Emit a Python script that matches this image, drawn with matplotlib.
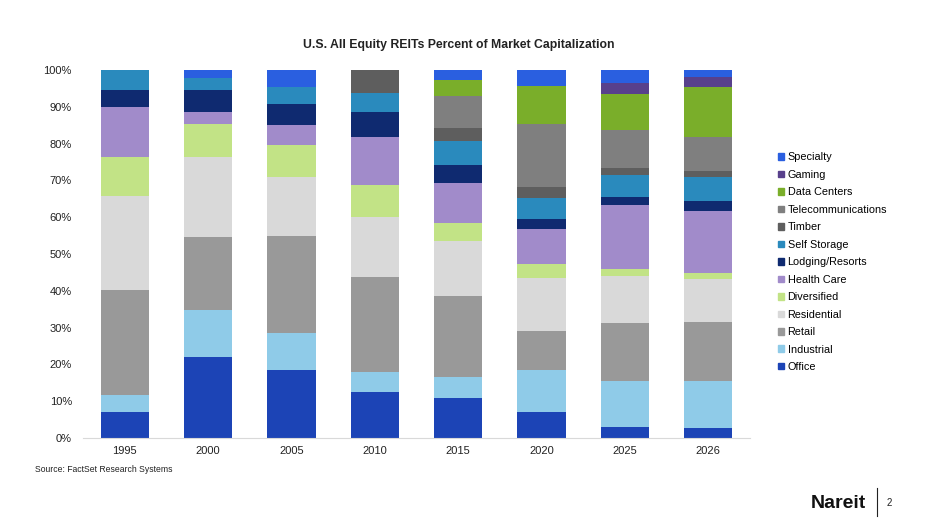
import numpy as np
import matplotlib
matplotlib.use("Agg")
from matplotlib import pyplot as plt
from matplotlib.patches import Patch
from matplotlib.ticker import PercentFormatter

plt.rcParams["font.family"] = ["Liberation Sans", "DejaVu Sans"]

years = ["1995", "2000", "2005", "2010", "2015", "2020", "2025", "2026"]

# percent of market cap by sector
office = [7.0, 22.1, 18.5, 12.4, 11.0, 7.1, 3.1, 2.8]
industrial = [4.7, 12.7, 9.9, 5.5, 5.7, 11.3, 12.4, 12.7]
retail = [28.5, 19.9, 26.5, 25.8, 22.0, 10.7, 15.8, 16.1]
residential = [25.6, 21.7, 16.1, 16.4, 14.9, 14.3, 12.8, 11.5]
diversified = [10.5, 8.9, 8.6, 8.7, 4.9, 3.9, 1.7, 1.8]
health_care = [13.7, 3.4, 5.4, 12.9, 10.7, 9.5, 17.5, 16.9]
lodging = [4.6, 5.9, 5.8, 7.0, 5.0, 2.8, 2.3, 2.6]
self_storage = [5.4, 3.1, 4.7, 5.0, 6.6, 5.6, 5.9, 6.6]
timber = [0, 0, 0, 6.3, 3.4, 2.9, 1.8, 1.6]
telecom = [0, 0, 0, 0, 8.7, 17.2, 10.4, 9.3]
data_centers = [0, 0, 0, 0, 4.4, 10.4, 9.7, 13.6]
gaming = [0, 0, 0, 0, 0, 0, 3.0, 2.7]
specialty = [0, 2.3, 4.5, 0, 2.7, 4.3, 3.6, 1.8]

sectors = [
    ("Office", office, "#1c44b6"),
    ("Industrial", industrial, "#8fcbe8"),
    ("Retail", retail, "#999999"),
    ("Residential", residential, "#d9d9d9"),
    ("Diversified", diversified, "#c2e386"),
    ("Health Care", health_care, "#a18bca"),
    ("Lodging/Resorts", lodging, "#0f2a70"),
    ("Self Storage", self_storage, "#2a8abd"),
    ("Timber", timber, "#5e5e5e"),
    ("Telecommunications", telecom, "#7f7f7f"),
    ("Data Centers", data_centers, "#7aae2a"),
    ("Gaming", gaming, "#58408c"),
    ("Specialty", specialty, "#2a5fe0"),
]

fig = plt.figure(figsize=(9.3, 5.25), dpi=100)
ax = fig.add_axes([83 / 930, 1 - 438 / 525, 667 / 930, 368 / 525])

x = np.arange(len(years))
bottom = np.zeros(len(years))
for name, vals, color in sectors:
    vals = np.array(vals)
    ax.bar(x, vals, bottom=bottom, width=0.58, color=color, label=name)
    bottom += vals

ax.set_xlim(-0.5, len(years) - 0.5)
ax.set_ylim(0, 100)
ax.set_xticks(x, years)
ax.set_yticks(np.arange(0, 101, 10))
ax.yaxis.set_major_formatter(PercentFormatter(decimals=0))
ax.tick_params(length=0, labelsize=8, colors="#222222")
ax.tick_params(axis="x", pad=6)
ax.tick_params(axis="y", pad=8)
for side in ["top", "right", "left"]:
    ax.spines[side].set_visible(False)
ax.spines["bottom"].set_color("#d9d9d9")

fig.text(459 / 930, 1 - 45 / 525, "U.S. All Equity REITs Percent of Market Capitalization",
         ha="center", va="center", fontsize=8.8, fontweight="bold", color="#222222")

handles = [Patch(color=c, label=n) for n, _, c in sectors][::-1]
fig.legend(handles=handles, loc="upper left", bbox_to_anchor=(774 / 930, 1 - 148 / 525),
           frameon=False, fontsize=7.8, handlelength=0.55, handleheight=0.55,
           handletextpad=0.3, labelspacing=0.69, borderaxespad=0)

fig.text(35 / 930, 1 - 470 / 525, "Source: FactSet Research Systems", fontsize=6.2,
         va="center", color="#222222")
fig.text(866 / 930, 1 - 503 / 525, "Nareit", ha="right", va="center",
         fontsize=14, fontweight="heavy", color="#111111")
fig.add_artist(plt.Line2D([877 / 930, 877 / 930], [1 - 488 / 525, 1 - 516 / 525],
                          color="#222222", lw=0.8))
fig.text(889 / 930, 1 - 503 / 525, "2", ha="center", va="center", fontsize=7, color="#222222")

fig.savefig("out.png", dpi=100)
